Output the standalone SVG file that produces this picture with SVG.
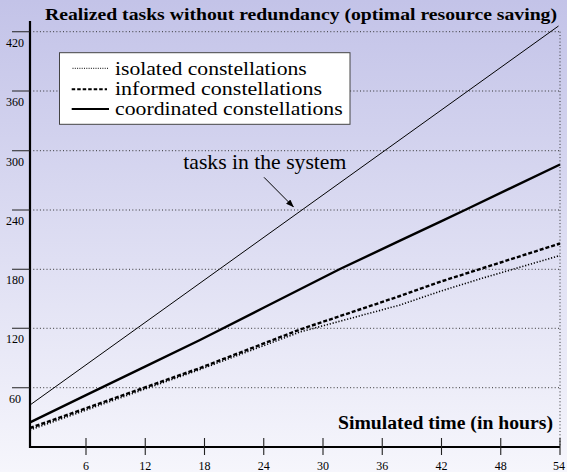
<svg xmlns="http://www.w3.org/2000/svg" width="567" height="472" viewBox="0 0 567 472">
<defs>
<linearGradient id="bg" x1="0" y1="0" x2="0" y2="1">
<stop offset="0" stop-color="#c3c3e8"/>
<stop offset="1" stop-color="#f6f6fc"/>
</linearGradient>
<marker id="ah" markerWidth="8" markerHeight="6" refX="7.5" refY="3" orient="auto" markerUnits="userSpaceOnUse">
<path d="M0,0 L8,3 L0,6 Z" fill="#000"/>
</marker>
<style>
text{font-family:"Liberation Serif","Times New Roman",serif;fill:#000}
.tl{font-size:12px;text-anchor:middle}
.bold{font-weight:bold}
.leg{font-size:18.5px}
.ann{font-size:21px}
.grid{stroke:#333;stroke-width:1;stroke-dasharray:1 2.3;fill:none}
.axis{stroke:#000;stroke-width:2.2;fill:none}
.tick{stroke:#222;stroke-width:1.1;fill:none}
.tasks{stroke:#000;stroke-width:1;fill:none}
.coord{stroke:#000;stroke-width:2.4;fill:none;stroke-linejoin:round}
.inform{stroke:#000;stroke-width:2.4;fill:none;stroke-dasharray:4 2}
.iso{stroke:#000;stroke-width:1.6;fill:none;stroke-dasharray:1.2 1.8}
</style>
</defs>
<rect x="0" y="0" width="567" height="472" fill="url(#bg)"/>

<g id="grid">
<path class="grid" d="M30,31.7H560 M30,91H560 M30,150.7H560 M30,210H560 M30,269.3H560 M30,328.3H560 M30,387.7H560 M560,31.7V447"/>
</g>

<g id="y-axis">
<line class="axis" x1="30" y1="21" x2="30" y2="448"/>
<path class="tick" d="M12,31.7H30 M12,91H30 M12,150.7H30 M12,210H30 M12,269.3H30 M12,328.3H30 M12,387.7H30"/>
<text class="tl" x="15" y="46.5">420</text>
<text class="tl" x="15" y="106">360</text>
<text class="tl" x="15" y="165.5">300</text>
<text class="tl" x="15" y="225">240</text>
<text class="tl" x="15" y="284.3">180</text>
<text class="tl" x="15" y="343.3">120</text>
<text class="tl" x="15" y="402.7">60</text>
</g>

<g id="x-axis">
<line class="axis" x1="29" y1="447" x2="560" y2="447"/>
<path class="tick" d="M86,438V455 M145.25,438V455 M204.5,438V455 M263.75,438V455 M323,438V455 M382.25,438V455 M441.5,438V455 M500.75,438V455 M560,438V455"/>
<text class="tl" x="86" y="470">6</text>
<text class="tl" x="145.25" y="470">12</text>
<text class="tl" x="204.5" y="470">18</text>
<text class="tl" x="263.75" y="470">24</text>
<text class="tl" x="323" y="470">30</text>
<text class="tl" x="382.25" y="470">36</text>
<text class="tl" x="441.5" y="470">42</text>
<text class="tl" x="500.75" y="470">48</text>
<text class="tl" x="559" y="470">54</text>
</g>

<g id="title">
<text class="bold" x="45" y="20" font-size="17.5" textLength="512" lengthAdjust="spacingAndGlyphs">Realized tasks without redundancy (optimal resource saving)</text>
</g>
<g id="x-label">
<text class="bold" x="338" y="429" font-size="19.7" textLength="215" lengthAdjust="spacingAndGlyphs">Simulated time (in hours)</text>
</g>

<g id="series">
<polyline id="tasks-line" class="tasks" points="30,405 558.5,26"/>
<polyline id="coordinated" class="coord" points="30,422.3 86,395.2 145,366.6 200,340 264,307.5 340,269 400,240.7 441,221.3 465,210 560,164.5"/>
<polyline id="informed" class="inform" points="30,428 200,368 300,329.5 400,296 441,281.5 560,243.5"/>
<polyline id="isolated" class="iso" points="30,430 200,369.5 300,332 400,305 441,291 482,278.3 560,255.5"/>
</g>

<g id="legend">
<rect x="59.5" y="52.7" width="290.5" height="71.6" fill="#fff" stroke="#444" stroke-width="1"/>
<line x1="72.5" y1="68.3" x2="108.5" y2="68.3" stroke="#000" stroke-width="1" stroke-dasharray="1 1.3"/>
<line x1="71.7" y1="89.3" x2="107" y2="89.3" stroke="#000" stroke-width="2" stroke-dasharray="3.5 2"/>
<line x1="71.7" y1="109" x2="109" y2="109" stroke="#000" stroke-width="2"/>
<text class="leg" x="115" y="74.5" textLength="191.7" lengthAdjust="spacingAndGlyphs">isolated constellations</text>
<text class="leg" x="115" y="95" textLength="207" lengthAdjust="spacingAndGlyphs">informed constellations</text>
<text class="leg" x="115" y="114.5" textLength="227.7" lengthAdjust="spacingAndGlyphs">coordinated constellations</text>
</g>

<g id="annotation">
<text class="ann" x="183.3" y="168.5" textLength="163" lengthAdjust="spacingAndGlyphs">tasks in the system</text>
<line x1="264" y1="177.3" x2="293.5" y2="207" stroke="#000" stroke-width="1" marker-end="url(#ah)"/>
</g>
</svg>
